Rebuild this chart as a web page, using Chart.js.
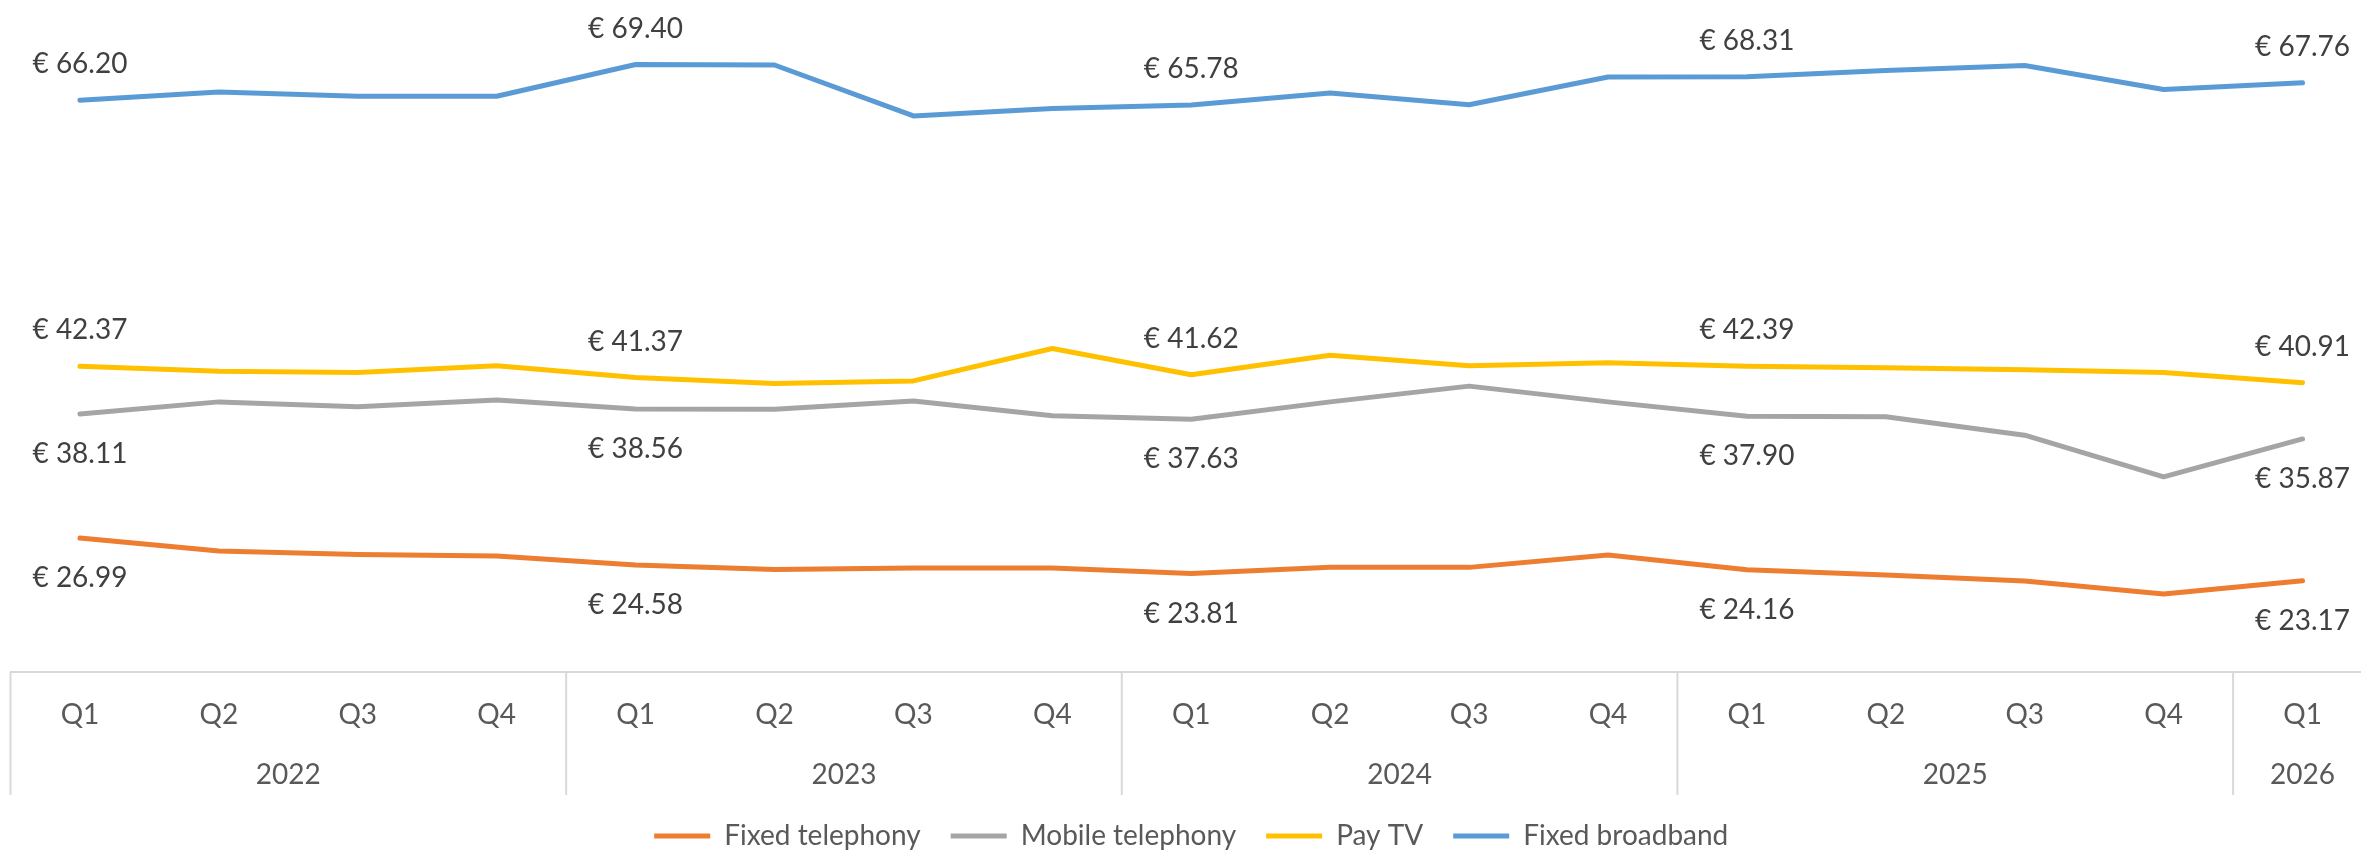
<!DOCTYPE html>
<html lang="en">
<head>
<meta charset="UTF-8">
<title>Average revenue per service</title>
<script src="https://cdn.jsdelivr.net/npm/chart.js"></script>
<style>
    html, body { margin: 0; padding: 0; background: #fff; overflow: hidden; }
    /* a bit larger than the window: the last category and the legend bottom are cut off, as in the original */
    #wrap { width: 2372px; height: 860px; }
</style>
</head>
<body>
<div id="wrap"><canvas id="lineChart"></canvas></div>

<script>
    const quarters = ['Q1', 'Q2', 'Q3', 'Q4', 'Q1', 'Q2', 'Q3', 'Q4', 'Q1', 'Q2', 'Q3', 'Q4', 'Q1', 'Q2', 'Q3', 'Q4', 'Q1'];
    const years = ['2022', '2023', '2024', '2025', '2026'];
    const yearSpans = [4, 4, 4, 4, 1];

    const fixedTelephony  = [26.99, 25.83, 25.53, 25.38, 24.58, 24.19, 24.31, 24.31, 23.81, 24.37, 24.37, 25.47, 24.16, 23.68, 23.14, 21.98, 23.17];
    const mobileTelephony = [38.11, 39.19, 38.75, 39.35, 38.56, 38.54, 39.26, 37.94, 37.63, 39.19, 40.60, 39.19, 37.90, 37.85, 36.21, 32.48, 35.87];
    const payTv           = [42.37, 41.94, 41.83, 42.42, 41.37, 40.84, 41.07, 43.97, 41.62, 43.37, 42.42, 42.69, 42.39, 42.24, 42.06, 41.83, 40.91];
    const fixedBroadband  = [66.20, 66.95, 66.56, 66.56, 69.40, 69.36, 64.80, 65.46, 65.78, 66.86, 65.80, 68.29, 68.31, 68.86, 69.31, 67.16, 67.76];

    // points that carry a value label (every Q1)
    const labelIndexes = [0, 4, 8, 12, 16];

    const FONT = 'Lato, Calibri, "Liberation Sans", sans-serif';

    // value labels: above the line for pay TV / broadband, below for the telephony series
    const pointLabels = {
        id: 'pointLabels',
        afterDatasetsDraw(chart) {
            const ctx = chart.ctx;
            ctx.save();
            ctx.font = '28px ' + FONT;
            ctx.fillStyle = '#404040';
            ctx.textAlign = 'center';
            ctx.textBaseline = 'middle';
            chart.data.datasets.forEach((ds, di) => {
                const meta = chart.getDatasetMeta(di);
                labelIndexes.forEach(i => {
                    const pt = meta.data[i];
                    const dy = ds.labelAbove ? -36 : 40;
                    ctx.fillText('€ ' + ds.data[i].toFixed(2), pt.x, pt.y + dy);
                });
            });
            ctx.restore();
        }
    };

    // second row of the category axis: years with separators
    const yearGroups = {
        id: 'yearGroups',
        afterDraw(chart) {
            const x = chart.scales.x;
            const ctx = chart.ctx;
            const half = (x.getPixelForValue(1) - x.getPixelForValue(0)) / 2;
            const top = chart.chartArea.bottom;
            let start = 0;
            ctx.save();
            ctx.strokeStyle = '#d9d9d9';
            ctx.lineWidth = 2;
            ctx.font = '28px ' + FONT;
            ctx.fillStyle = '#595959';
            ctx.textAlign = 'center';
            ctx.textBaseline = 'middle';
            years.forEach((yr, k) => {
                const end = start + yearSpans[k] - 1;
                const left = x.getPixelForValue(start) - half;
                const right = x.getPixelForValue(end) + half;
                ctx.beginPath();
                ctx.moveTo(left, top);
                ctx.lineTo(left, top + 123);
                ctx.stroke();
                ctx.fillText(yr, (left + right) / 2, top + 103);
                start = end + 1;
            });
            ctx.restore();
        }
    };

    function series(label, data, color, above) {
        return {
            label: label,
            data: data,
            borderColor: color,
            backgroundColor: color,
            borderWidth: 5,
            borderCapStyle: 'round',
            borderJoinStyle: 'round',
            pointRadius: 0,
            tension: 0,
            labelAbove: above
        };
    }

    const ctx = document.getElementById('lineChart').getContext('2d');
    new Chart(ctx, {
        type: 'line',
        data: {
            labels: quarters,
            datasets: [
                series('Fixed telephony', fixedTelephony, '#ED7D31', false),
                series('Mobile telephony', mobileTelephony, '#A5A5A5', false),
                series('Pay TV', payTv, '#FFC000', true),
                series('Fixed broadband', fixedBroadband, '#5B9BD5', true)
            ]
        },
        options: {
            responsive: true,
            maintainAspectRatio: false,
            animation: false,
            layout: { padding: { left: 10.5, top: 2, right: 0, bottom: 0 } },
            plugins: {
                tooltip: { enabled: false },
                legend: {
                    position: 'bottom',
                    labels: {
                        font: { family: FONT, size: 28 },
                        color: '#595959',
                        boxWidth: 56,
                        boxHeight: 5,
                        padding: 30,
                        generateLabels(chart) {
                            const items = Chart.defaults.plugins.legend.labels.generateLabels(chart);
                            items.forEach(it => { it.lineWidth = 0; });
                            return items;
                        }
                    }
                }
            },
            scales: {
                x: {
                    offset: true,
                    grid: { display: false, drawTicks: false },
                    border: { display: true, color: '#d9d9d9', width: 2 },
                    ticks: {
                        font: { family: FONT, size: 28 },
                        color: '#595959',
                        padding: 26,
                        autoSkip: false,
                        maxRotation: 0
                    },
                    afterFit(scale) { scale.height = 120; }
                },
                y: {
                    display: false,
                    min: 15,
                    max: 75
                }
            }
        },
        plugins: [pointLabels, yearGroups]
    });
</script>
</body>
</html>
